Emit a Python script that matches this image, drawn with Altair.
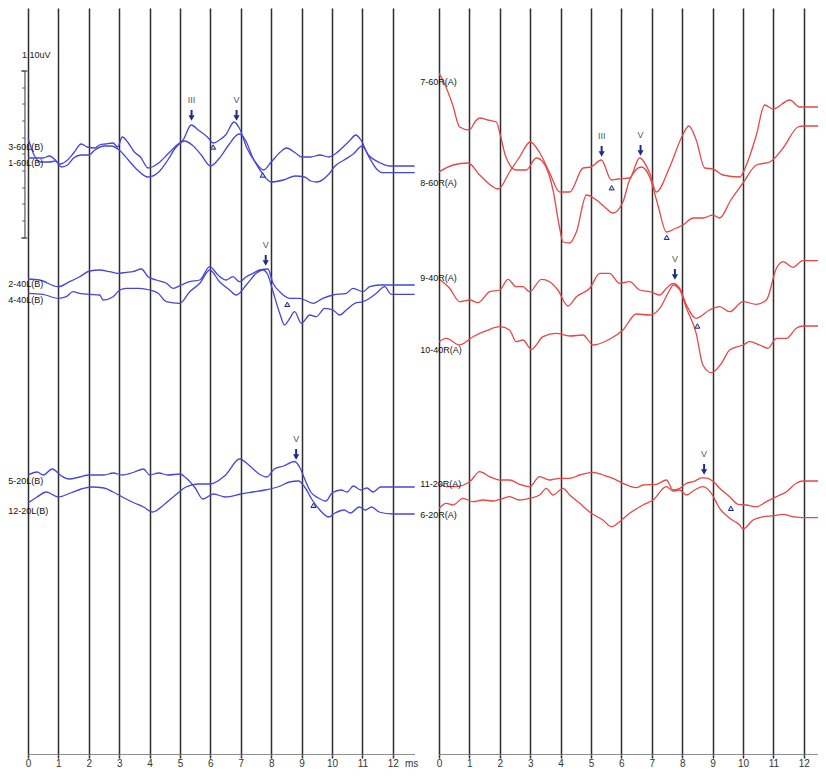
import altair as alt
import pandas as pd

# ---------------- data (time in ms, vertical trace position) ----------------
TICKS = list(range(13))
LEFT_TMIN, LEFT_TMAX = -0.658, 12.73
RIGHT_TMIN, RIGHT_TMAX = -0.625, 12.467

# left ear (blue)
t_3_60L = [0, 0.2, 0.4, 0.7, 0.9, 1.05, 1.3, 1.5, 1.75, 1.95, 2.2, 2.35, 2.55, 2.8, 2.95, 3.1, 3.3, 3.5, 3.7, 3.95,
           4.3, 4.6, 4.9, 5.1, 5.37, 5.6, 5.9, 6.1, 6.3, 6.5, 6.78, 6.95, 7.2, 7.5, 7.75, 8.0, 8.3, 8.5, 8.8, 9.0,
           9.3, 9.6, 9.9, 10.1, 10.4, 10.6, 10.78, 10.95, 11.2, 11.5, 11.65, 12.72]
y_3_60L = [138, 155, 162, 162, 161, 164, 160, 153, 144, 147, 148, 145, 144, 143, 147, 137, 143, 152, 157, 168,
           163, 154, 145, 140, 125, 130, 137, 143, 140, 135, 122, 128, 148, 163, 170, 162, 152, 148, 153, 157,
           157, 155, 157, 154, 146, 140, 135, 140, 156, 170, 172.7, 172.7]
t_1_60L = [0, 0.5, 0.7, 0.9, 1.1, 1.3, 1.5, 1.75, 2.0, 2.2, 2.5, 2.75, 3.0, 3.3, 3.6, 3.95, 4.3, 4.6, 4.85, 5.15,
           5.4, 5.7, 6.0, 6.3, 6.6, 6.94, 7.15, 7.4, 7.7, 8.0, 8.4, 8.8, 9.1, 9.3, 9.5, 9.9, 10.1, 10.4, 10.7,
           10.99, 11.2, 11.6, 11.9, 12.72]
y_1_60L = [158, 158, 156, 160, 167, 165, 158, 155, 155, 150, 146, 146, 150, 160, 170, 177, 172, 160, 148, 141,
           145, 155, 166, 158, 145, 134, 140, 158, 173, 182, 180, 176, 177, 181, 182, 174, 166, 160, 154,
           146, 155, 163, 166, 166]
t_2_40L = [0, 0.38, 0.99, 1.37, 1.7, 2.03, 2.36, 2.69, 2.96, 3.23, 3.45, 3.73, 3.95, 4.22, 4.55, 4.77, 5.04, 5.32,
           5.65, 5.98, 6.25, 6.52, 6.74, 6.96, 7.18, 7.4, 7.62, 7.89, 8.06, 8.28, 8.61, 8.94, 9.38, 9.7, 10.03,
           10.47, 10.69, 11.02, 11.24, 11.57, 12.72]
y_2_40L = [279, 280, 286.7, 281.7, 276.7, 271, 270, 271.7, 273.3, 272.3, 271.7, 269, 276.7, 280, 283.3, 288.3,
           285, 281.7, 280, 266.7, 275, 280, 276.7, 281.7, 276.7, 273.3, 270, 269, 283.3, 291.7, 298.3, 298.3,
           303.3, 298.3, 295, 293.3, 288.3, 291.7, 286.7, 285, 285]
t_4_40L = [0, 0.49, 0.99, 1.26, 1.48, 1.7, 2.03, 2.36, 2.47, 2.8, 3.02, 3.23, 3.67, 4.0, 4.28, 4.55, 4.99, 5.32,
           5.65, 5.98, 6.3, 6.63, 6.85, 7.18, 7.51, 7.73, 7.89, 8.06, 8.28, 8.44, 8.61, 8.77, 8.99, 9.27, 9.48,
           9.76, 10.03, 10.25, 10.47, 10.75, 11.02, 11.24, 11.46, 11.73, 11.95, 12.72]
y_4_40L = [293.3, 294.3, 298.3, 296.7, 291.7, 293.3, 294.3, 295, 300, 296.7, 290, 288.3, 288.3, 290, 293.3, 301.7,
           303.3, 291.7, 283.3, 270, 281.7, 290, 295, 285, 273.3, 270, 275, 291.7, 313.3, 325, 318.3, 311.7,
           323.3, 315, 316.7, 308.3, 310, 315, 310, 303.3, 301.7, 298.3, 293.3, 286.7, 294.3, 294.3]
t_5_20L = [0, 0.3, 0.5, 0.8, 1.1, 1.35, 1.7, 2.0, 2.5, 2.8, 3.1, 3.5, 3.8, 4.0, 4.3, 4.6, 5.0, 5.2, 5.5, 5.75,
           6.1, 6.5, 7.0, 7.4, 7.8, 8.3, 8.6, 8.9, 9.1, 9.35, 9.6, 9.9, 10.1, 10.4, 10.6, 10.9, 11.1, 11.3,
           11.55, 12.0, 12.72]
y_5_20L = [475, 472, 475, 469, 476, 479, 477, 475, 475, 473, 475, 472, 469, 475, 473, 475, 474, 478, 488, 499,
           494, 497, 494, 492, 490, 486, 482, 481, 487, 500, 510, 517, 513, 510, 513, 507, 510, 507,
           512, 514, 514]
t_12_20L = [0, 0.3, 0.6, 1.0, 1.4, 1.75, 2.1, 2.5, 2.8, 3.1, 3.5, 3.8, 4.1, 4.5, 4.85, 5.2, 5.6, 6.0, 6.5, 6.96,
            7.3, 7.6, 7.85, 8.1, 8.4, 8.77, 8.95, 9.1, 9.3, 9.55, 9.8, 10.0, 10.3, 10.5, 10.7, 10.95, 11.15,
            11.35, 11.6, 12.0, 12.72]
y_12_20L = [503, 497, 492, 497, 493, 489, 487, 488, 492, 497, 503, 507, 512, 504, 495, 487, 484, 484, 475, 459,
            466, 474, 477, 469, 466, 461.5, 468, 479, 492, 498, 501, 493, 490, 492, 486, 490, 488,
            492, 487, 487, 487]

# right ear (red)
t_7_60R = [0, 0.2, 0.45, 0.68, 1.0, 1.2, 1.34, 1.6, 1.89, 2.0, 2.2, 2.54, 2.87, 3.2, 3.42, 3.75, 3.95, 4.08, 4.3,
           4.52, 4.85, 5.18, 5.45, 5.72, 6.05, 6.27, 6.66, 6.93, 7.2, 7.48, 7.81, 8.03, 8.36, 8.68, 9.01, 9.23,
           9.6, 10.0, 10.44, 10.88, 11.32, 11.81, 12.0, 12.73]
y_7_60R = [73, 85, 105, 127, 130, 121, 118, 120, 122, 133, 157, 170, 170, 158, 162, 190, 225, 242, 243,
           232, 195, 200, 207, 213, 202, 180, 167, 177, 205, 232, 228, 225, 218, 218, 215, 218,
           200, 183, 165, 162, 148, 127, 126, 126]
t_8_60R = [0, 0.46, 0.96, 1.34, 1.95, 2.32, 2.65, 3.0, 3.3, 3.64, 3.97, 4.3, 4.74, 5.0, 5.34, 5.67, 5.89, 6.27,
           6.6, 6.93, 7.15, 7.59, 7.97, 8.22, 8.46, 8.74, 9.01, 9.34, 9.89, 10.11, 10.44, 10.71, 10.99, 11.54,
           11.86, 12.73]
y_8_60R = [172, 165, 163, 175, 189, 172, 157, 142, 152, 173, 192, 192, 168, 167, 160, 180, 179, 178,
           158, 173, 192, 167, 138, 126, 140, 168, 169, 175, 177, 165, 135, 105, 109, 100,
           107, 107]
t_9_40R = [0, 0.35, 0.68, 1.01, 1.28, 1.67, 2.0, 2.27, 2.54, 2.76, 2.98, 3.37, 3.64, 3.91, 4.24, 4.52, 4.96, 5.29,
           5.61, 5.94, 6.27, 6.6, 6.93, 7.26, 7.48, 7.7, 7.92, 8.14, 8.46, 8.9, 9.23, 9.56, 10.0, 10.44, 10.77,
           11.1, 11.32, 11.64, 11.97, 12.73]
y_9_40R = [279, 288.3, 301.7, 300, 302.7, 291.7, 290, 279.3, 286.7, 286.7, 291.7, 279.3, 281.7, 290, 306, 296.7,
           288.3, 273.3, 273.3, 283.3, 281.7, 290, 291.7, 295, 288.3, 283.3, 288.3, 305, 318.3, 310, 306.7,
           311.7, 301.7, 304.3, 300, 268.3, 261.7, 267.3, 260.7, 260.7]
t_10_40R = [0, 0.24, 0.68, 1.12, 1.56, 2.0, 2.32, 2.54, 2.76, 3.04, 3.42, 3.86, 4.3, 4.74, 5.07, 5.61, 6.05, 6.49,
            6.93, 7.26, 7.59, 7.7, 7.92, 8.14, 8.46, 8.68, 8.96, 9.29, 9.56, 10.0, 10.22, 10.55, 10.82, 11.1,
            11.43, 11.75, 11.97, 12.73]
y_10_40R = [341.7, 338.3, 345, 336.7, 330.7, 326.7, 330, 341.7, 340, 349.3, 336.7, 333.3, 336, 335, 345, 339.3,
            330, 314, 315, 308.3, 290, 285, 290, 308.3, 333.3, 365, 372.7, 363.3, 350, 345, 341.7, 345, 348.3,
            338.3, 338.3, 328.3, 326, 326]
t_11_20R = [0, 0.24, 0.52, 1.01, 1.34, 1.67, 2.0, 2.32, 2.65, 2.98, 3.31, 3.64, 3.97, 4.3, 4.63, 5.07, 5.39, 5.72,
            6.05, 6.49, 6.71, 7.15, 7.48, 7.7, 7.92, 8.14, 8.36, 8.68, 9.01, 9.23, 9.56, 9.84, 10.11, 10.44,
            10.77, 11.1, 11.43, 11.75, 11.97, 12.73]
y_11_20R = [483.3, 486.7, 486.7, 481.7, 471.7, 476.7, 480, 480, 484.3, 486.7, 476.7, 480, 478.3, 478.3, 475,
            472.3, 475, 478.3, 483.3, 487.7, 485, 484.3, 480, 490, 488.3, 483.3, 481.7, 477.7, 481, 488.3,
            496.7, 504.3, 505, 506.7, 501.7, 496.7, 491.7, 483.3, 481, 481]
t_6_20R = [0, 0.24, 0.46, 0.79, 1.12, 1.45, 1.78, 2.11, 2.32, 2.65, 2.98, 3.31, 3.53, 3.75, 4.08, 4.3, 4.63, 5.01,
           5.39, 5.67, 5.94, 6.27, 6.71, 7.04, 7.48, 7.7, 7.92, 8.14, 8.41, 8.68, 8.96, 9.23, 9.56, 9.89, 10.0,
           10.33, 10.66, 10.99, 11.32, 11.64, 11.97, 12.73]
y_6_20R = [508.3, 503.3, 505, 498.3, 501.7, 500, 501, 498.3, 496.7, 500, 498.3, 495, 488.3, 495, 488.3, 495,
           503.3, 513.3, 520, 526.7, 521.7, 513.3, 505, 500, 486.7, 491, 490, 495, 490, 486.7, 493.3, 508.3,
           518.3, 525, 529, 520, 516.7, 515.7, 514.3, 516.7, 517.7, 517.7]

left_names = ["3-60L(B)", "1-60L(B)", "2-40L(B)", "4-40L(B)", "5-20L(B)", "12-20L(B)"]
left_name_pos = [147, 162.5, 284.3, 300, 480.7, 510.7]
right_names = ["7-60R(A)", "8-60R(A)", "9-40R(A)", "10-40R(A)", "11-20R(A)", "6-20R(A)"]
right_name_pos = [81.7, 182.7, 278.3, 350, 484, 515]

left_wave_t = [5.38, 6.86, 7.82, 8.82]
left_wave_pos = [121, 121, 266, 460]
left_wave_txt = ["III", "V", "V", "V"]
right_wave_t = [5.35, 6.63, 7.76, 8.72]
right_wave_pos = [157, 156, 280, 475]
right_wave_txt = ["III", "V", "V", "V"]

left_trough_t = [6.09, 7.72, 8.53, 9.39]
left_trough_pos = [147, 175, 304.3, 505.3]
right_trough_t = [5.68, 7.49, 8.5, 9.6]
right_trough_pos = [187.7, 237.3, 326, 508.3]

SCALE_LABEL = "1.10uV"
scale_bar_divs = [71, 88, 104, 121, 138, 154, 171, 188, 204, 221, 238]

# ---------------- chart ----------------
FONT = "Liberation Sans"
NAVY = "#1f2c86"
GRID = "#2e2e2e"
BLUE = "#4646d8"
RED = "#e54848"
ONE = pd.DataFrame({"k": [0]})
BOTTOM = 755


def panel(traces, names, name_pos, wt, wp, wtxt, tt, tp, tmin, tmax, width, color, scale_bar, unit_text):
    xs = alt.Scale(domain=[tmin, tmax], nice=False, zero=False)
    ys = alt.Scale(domain=[BOTTOM, 8], nice=False, zero=False)
    xaxis = alt.Axis(values=TICKS, grid=True, gridColor=GRID, gridWidth=1.5, gridOpacity=1,
                     domain=False, ticks=True, tickSize=3, tickColor=GRID, tickWidth=1.5,
                     labelFontSize=10, labelFont=FONT, labelColor="#333333", labelPadding=0,
                     labelFlush=False, labelOverlap=False, title=None, format="d")

    def X(f):
        return alt.X(f, type="quantitative", scale=xs, axis=xaxis)

    def Y(f):
        return alt.Y(f, type="quantitative", scale=ys, axis=None)

    def XD(v):
        return alt.XDatum(v, type="quantitative", scale=xs, axis=xaxis)

    def YD(v):
        return alt.YDatum(v, type="quantitative", scale=ys, axis=None)

    frames = [pd.DataFrame({"trace": n, "t": t, "pos": y}) for n, t, y in traces]
    df = pd.concat(frames, ignore_index=True)

    layers = []
    layers.append(alt.Chart(ONE).mark_rule(color="#6a6a6a", strokeWidth=1.6, clip=True).encode(
        x=XD(0), x2=alt.X2Datum(tmax), y=YD(BOTTOM)))
    if unit_text:
        layers.append(alt.Chart(ONE).mark_text(align="left", baseline="middle", fontSize=10, font=FONT,
                                               color="#333333").encode(
            x=XD(12.4), y=YD(BOTTOM + 8.5), text=alt.value(unit_text)))

    if scale_bar:
        layers.append(alt.Chart(ONE).mark_rule(color="#555555", strokeWidth=1.2).encode(
            x=XD(-0.1), y=YD(71), y2=alt.Y2Datum(238)))
        layers.append(alt.Chart(pd.DataFrame({"pos": scale_bar_divs})).mark_rule(
            color="#555555", strokeWidth=1).encode(x=XD(-0.19), x2=alt.X2Datum(-0.1), y=Y("pos")))
        layers.append(alt.Chart(pd.DataFrame({"pos": [scale_bar_divs[0], scale_bar_divs[-1]]})).mark_rule(
            color="#555555", strokeWidth=1.4).encode(x=XD(-0.22), x2=alt.X2Datum(-0.02), y=Y("pos")))
        layers.append(alt.Chart(ONE).mark_text(align="left", baseline="middle", fontSize=9, font=FONT,
                                               color="#222222").encode(
            x=XD(-0.2), y=YD(55), text=alt.value(SCALE_LABEL)))

    lines = alt.Chart(df).mark_line(color=color, strokeWidth=1.3, interpolate="monotone", clip=True).encode(
        x=X("t"), y=Y("pos"), detail="trace:N")
    layers.append(lines)

    lab = pd.DataFrame({"name": names, "pos": name_pos})
    layers.append(alt.Chart(lab).mark_text(align="left", baseline="middle", fontSize=9, font=FONT,
                                           color="#111111").encode(x=XD(tmin + 0.01), y=Y("pos"),
                                                                    text="name:N"))

    wv = pd.DataFrame({"t": wt, "pos": wp, "txt": wtxt})
    layers.append(alt.Chart(wv).mark_rule(color=NAVY, strokeWidth=2, yOffset=-11, y2Offset=-4).encode(
        x=X("t"), y=Y("pos"), y2=alt.Y2("pos")))
    layers.append(alt.Chart(wv).mark_point(shape="triangle-down", filled=True, color=NAVY, size=38,
                                           opacity=1, yOffset=-3).encode(x=X("t"), y=Y("pos")))
    layers.append(alt.Chart(wv).mark_text(baseline="middle", fontSize=9, font=FONT, color="#555555",
                                          dy=-21).encode(x=X("t"), y=Y("pos"), text="txt:N"))

    tr = pd.DataFrame({"t": tt, "pos": tp})
    layers.append(alt.Chart(tr).mark_point(shape="triangle-up", fill="#cdd5f5", stroke=NAVY, strokeWidth=1,
                                           size=26, opacity=1, fillOpacity=1).encode(x=X("t"), y=Y("pos")))

    return alt.layer(*layers).properties(width=width, height=BOTTOM - 8)


left_traces = [("3-60L(B)", t_3_60L, y_3_60L), ("1-60L(B)", t_1_60L, y_1_60L),
               ("2-40L(B)", t_2_40L, y_2_40L), ("4-40L(B)", t_4_40L, y_4_40L),
               ("5-20L(B)", t_5_20L, y_5_20L), ("12-20L(B)", t_12_20L, y_12_20L)]
right_traces = [("7-60R(A)", t_7_60R, y_7_60R), ("8-60R(A)", t_8_60R, y_8_60R),
                ("9-40R(A)", t_9_40R, y_9_40R), ("10-40R(A)", t_10_40R, y_10_40R),
                ("11-20R(A)", t_11_20R, y_11_20R), ("6-20R(A)", t_6_20R, y_6_20R)]

left = panel(left_traces, left_names, left_name_pos, left_wave_t, left_wave_pos, left_wave_txt,
             left_trough_t, left_trough_pos, LEFT_TMIN, LEFT_TMAX, 407, BLUE, True, "ms")
right = panel(right_traces, right_names, right_name_pos, right_wave_t, right_wave_pos, right_wave_txt,
              right_trough_t, right_trough_pos, RIGHT_TMIN, RIGHT_TMAX, 398, RED, False, None)

chart = alt.hconcat(left, right, spacing=5, bounds="flush").properties(
    padding=0, background="white").configure_view(strokeWidth=0)

chart.save("out.html", embed_options={"renderer": "svg", "actions": False})
